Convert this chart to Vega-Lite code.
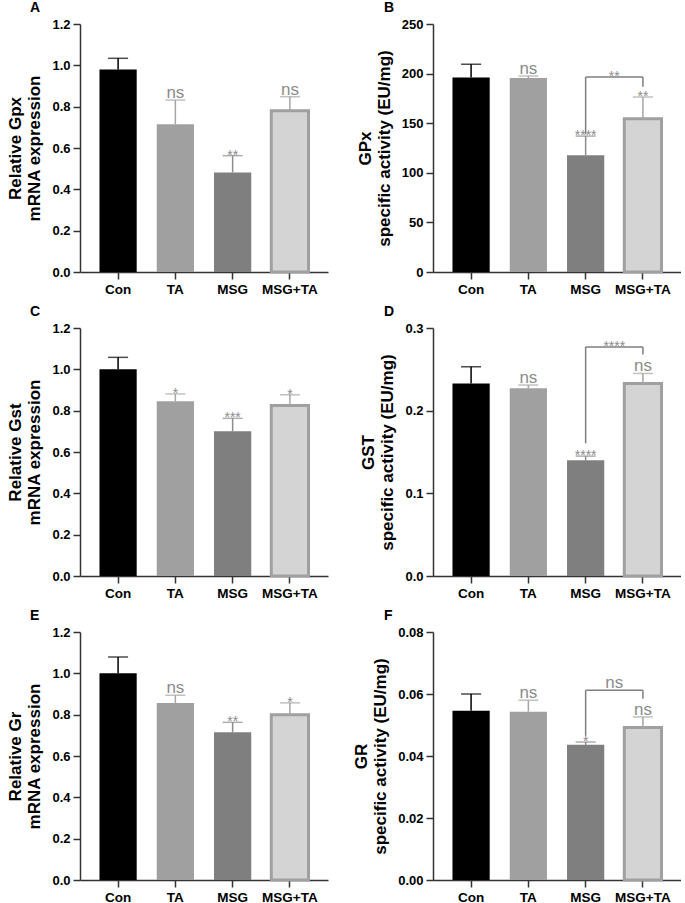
{
  "$schema": "https://vega.github.io/schema/vega-lite/v6.json",
  "padding": {"left": 6, "top": 1, "right": 0, "bottom": 0},
  "columns": 2,
  "spacing": {"row": 9, "column": 24},
  "datasets": {
    "bars": [
      {"panel": "A", "group": "Con", "mean": 0.98, "upper": 1.034, "sig": ""},
      {"panel": "A", "group": "TA", "mean": 0.715, "upper": 0.832, "sig": "ns"},
      {"panel": "A", "group": "MSG", "mean": 0.482, "upper": 0.563, "sig": "**"},
      {"panel": "A", "group": "MSG+TA", "mean": 0.78, "upper": 0.848, "sig": "ns"},
      {"panel": "B", "group": "Con", "mean": 196, "upper": 209.4, "sig": ""},
      {"panel": "B", "group": "TA", "mean": 195.6, "upper": 197.6, "sig": "ns"},
      {"panel": "B", "group": "MSG", "mean": 117.6, "upper": 137, "sig": "****"},
      {"panel": "B", "group": "MSG+TA", "mean": 154.5, "upper": 176.4, "sig": "**"},
      {"panel": "C", "group": "Con", "mean": 1.0, "upper": 1.058, "sig": ""},
      {"panel": "C", "group": "TA", "mean": 0.845, "upper": 0.881, "sig": "*"},
      {"panel": "C", "group": "MSG", "mean": 0.70, "upper": 0.763, "sig": "***"},
      {"panel": "C", "group": "MSG+TA", "mean": 0.825, "upper": 0.877, "sig": "*"},
      {"panel": "D", "group": "Con", "mean": 0.233, "upper": 0.253, "sig": ""},
      {"panel": "D", "group": "TA", "mean": 0.227, "upper": 0.231, "sig": "ns"},
      {"panel": "D", "group": "MSG", "mean": 0.140, "upper": 0.145, "sig": "****"},
      {"panel": "D", "group": "MSG+TA", "mean": 0.233, "upper": 0.245, "sig": "ns"},
      {"panel": "E", "group": "Con", "mean": 1.0, "upper": 1.079, "sig": ""},
      {"panel": "E", "group": "TA", "mean": 0.857, "upper": 0.894, "sig": "ns"},
      {"panel": "E", "group": "MSG", "mean": 0.715, "upper": 0.763, "sig": "**"},
      {"panel": "E", "group": "MSG+TA", "mean": 0.80, "upper": 0.857, "sig": "*"},
      {"panel": "F", "group": "Con", "mean": 0.0546, "upper": 0.0600, "sig": ""},
      {"panel": "F", "group": "TA", "mean": 0.0543, "upper": 0.0580, "sig": "ns"},
      {"panel": "F", "group": "MSG", "mean": 0.0436, "upper": 0.0445, "sig": "*"},
      {"panel": "F", "group": "MSG+TA", "mean": 0.0492, "upper": 0.0526, "sig": "ns"}
    ],
    "brackets": [
      {"panel": "B", "left": "MSG", "right": "MSG+TA", "y": 196.6, "yl": 138.8, "yr": 186.8, "label": "**"},
      {"panel": "D", "left": "MSG", "right": "MSG+TA", "y": 0.277, "yl": 0.1605, "yr": 0.268, "label": "****"},
      {"panel": "F", "left": "MSG", "right": "MSG+TA", "y": 0.0612, "yl": 0.0465, "yr": 0.0585, "label": "ns"}
    ]
  },
  "concat": [
    {
      "width": 248, "height": 248,
      "title": {"text": "A", "anchor": "start", "frame": "group", "dx": -50, "offset": 3, "fontSize": 14, "font": "Liberation Sans", "fontWeight": "bold", "color": "#000"},
      "data": {"name": "bars"},
      "transform": [{"filter": "datum.panel === 'A'"}],
      "encoding": {"x": {"field": "group", "type": "nominal", "title": null, "sort": ["Con", "TA", "MSG", "MSG+TA"], "scale": {"domain": ["Con", "TA", "MSG", "MSG+TA"], "paddingInner": 0.35, "paddingOuter": 0.34}}},
      "layer": [
        {"mark": {"type": "bar", "stroke": "#a0a0a0"}, "encoding": {
          "y": {"field": "mean", "type": "quantitative", "scale": {"domain": [0, 1.2], "nice": false}, "axis": {"title": ["Relative Gpx", "mRNA expression"], "values": [0, 0.2, 0.4, 0.6, 0.8, 1.0, 1.2], "format": ".1f"}},
          "fill": {"field": "group", "type": "nominal", "scale": {"domain": ["Con", "TA", "MSG", "MSG+TA"], "range": ["#000000", "#a0a0a0", "#7f7f7f", "#d4d4d4"]}, "legend": null},
          "strokeWidth": {"condition": {"test": "datum.group === 'MSG+TA'", "value": 3}, "value": 0}}},
        {"mark": {"type": "rule", "strokeWidth": 1.5}, "encoding": {"y": {"field": "mean", "type": "quantitative"}, "y2": {"field": "upper"},
          "stroke": {"field": "group", "type": "nominal", "scale": {"domain": ["Con", "TA", "MSG", "MSG+TA"], "range": ["#000000", "#a6a6a6", "#8c8c8c", "#a6a6a6"]}, "legend": null}}},
        {"mark": {"type": "tick", "thickness": 1.5, "size": 20}, "encoding": {"y": {"field": "upper", "type": "quantitative"},
          "color": {"field": "group", "type": "nominal", "scale": {"domain": ["Con", "TA", "MSG", "MSG+TA"], "range": ["#000000", "#a6a6a6", "#8c8c8c", "#a6a6a6"]}, "legend": null}}},
        {"transform": [{"filter": "datum.sig === 'ns'"}], "mark": {"type": "text", "font": "Liberation Sans", "fontSize": 17, "color": "#8c8c8c", "baseline": "alphabetic", "dy": -2}, "encoding": {"y": {"field": "upper", "type": "quantitative"}, "text": {"field": "sig"}}},
        {"transform": [{"filter": "datum.sig !== 'ns' && datum.sig !== ''"}], "mark": {"type": "text", "font": "Liberation Sans", "fontSize": 14, "color": "#8c8c8c", "baseline": "alphabetic", "dy": 4}, "encoding": {"y": {"field": "upper", "type": "quantitative"}, "text": {"field": "sig"}}}
      ]
    },
    {
      "width": 248, "height": 248,
      "title": {"text": "B", "anchor": "start", "frame": "group", "dx": -49, "offset": 3, "fontSize": 14, "font": "Liberation Sans", "fontWeight": "bold", "color": "#000"},
      "data": {"name": "bars"},
      "transform": [{"filter": "datum.panel === 'B'"}],
      "encoding": {"x": {"field": "group", "type": "nominal", "title": null, "sort": ["Con", "TA", "MSG", "MSG+TA"], "scale": {"domain": ["Con", "TA", "MSG", "MSG+TA"], "paddingInner": 0.35, "paddingOuter": 0.34}}},
      "layer": [
        {"mark": {"type": "bar", "stroke": "#a0a0a0"}, "encoding": {
          "y": {"field": "mean", "type": "quantitative", "scale": {"domain": [0, 250], "nice": false}, "axis": {"title": ["GPx", "specific activity (EU/mg)"], "values": [0, 50, 100, 150, 200, 250]}},
          "fill": {"field": "group", "type": "nominal", "scale": {"domain": ["Con", "TA", "MSG", "MSG+TA"], "range": ["#000000", "#a0a0a0", "#7f7f7f", "#d4d4d4"]}, "legend": null},
          "strokeWidth": {"condition": {"test": "datum.group === 'MSG+TA'", "value": 3}, "value": 0}}},
        {"mark": {"type": "rule", "strokeWidth": 1.5}, "encoding": {"y": {"field": "mean", "type": "quantitative"}, "y2": {"field": "upper"},
          "stroke": {"field": "group", "type": "nominal", "scale": {"domain": ["Con", "TA", "MSG", "MSG+TA"], "range": ["#000000", "#a6a6a6", "#8c8c8c", "#a6a6a6"]}, "legend": null}}},
        {"mark": {"type": "tick", "thickness": 1.5, "size": 20}, "encoding": {"y": {"field": "upper", "type": "quantitative"},
          "color": {"field": "group", "type": "nominal", "scale": {"domain": ["Con", "TA", "MSG", "MSG+TA"], "range": ["#000000", "#a6a6a6", "#8c8c8c", "#a6a6a6"]}, "legend": null}}},
        {"transform": [{"filter": "datum.sig === 'ns'"}], "mark": {"type": "text", "font": "Liberation Sans", "fontSize": 17, "color": "#8c8c8c", "baseline": "alphabetic", "dy": -2}, "encoding": {"y": {"field": "upper", "type": "quantitative"}, "text": {"field": "sig"}}},
        {"transform": [{"filter": "datum.sig !== 'ns' && datum.sig !== ''"}], "mark": {"type": "text", "font": "Liberation Sans", "fontSize": 14, "color": "#8c8c8c", "baseline": "alphabetic", "dy": 4}, "encoding": {"y": {"field": "upper", "type": "quantitative"}, "text": {"field": "sig"}}},
        {"data": {"name": "brackets"}, "transform": [{"filter": "datum.panel === 'B'"}], "mark": {"type": "rule", "color": "#7f7f7f", "strokeWidth": 1.5}, "encoding": {"x": {"field": "left", "type": "nominal", "title": null}, "x2": {"field": "right"}, "y": {"field": "y", "type": "quantitative"}}},
        {"data": {"name": "brackets"}, "transform": [{"filter": "datum.panel === 'B'"}], "mark": {"type": "rule", "color": "#7f7f7f", "strokeWidth": 1.5}, "encoding": {"x": {"field": "left", "type": "nominal", "title": null}, "y": {"field": "yl", "type": "quantitative"}, "y2": {"field": "y"}}},
        {"data": {"name": "brackets"}, "transform": [{"filter": "datum.panel === 'B'"}], "mark": {"type": "rule", "color": "#7f7f7f", "strokeWidth": 1.5}, "encoding": {"x": {"field": "right", "type": "nominal", "title": null}, "y": {"field": "yr", "type": "quantitative"}, "y2": {"field": "y"}}},
        {"data": {"name": "brackets"}, "transform": [{"filter": "datum.panel === 'B'"}], "mark": {"type": "text", "font": "Liberation Sans", "fontSize": 14, "color": "#8c8c8c", "baseline": "alphabetic", "dy": 4}, "encoding": {"x": {"field": "left", "type": "nominal", "title": null, "bandPosition": 1.27}, "y": {"field": "y", "type": "quantitative"}, "text": {"field": "label"}}}
      ]
    },
    {
      "width": 248, "height": 248,
      "title": {"text": "C", "anchor": "start", "frame": "group", "dx": -50, "offset": 3, "fontSize": 14, "font": "Liberation Sans", "fontWeight": "bold", "color": "#000"},
      "data": {"name": "bars"},
      "transform": [{"filter": "datum.panel === 'C'"}],
      "encoding": {"x": {"field": "group", "type": "nominal", "title": null, "sort": ["Con", "TA", "MSG", "MSG+TA"], "scale": {"domain": ["Con", "TA", "MSG", "MSG+TA"], "paddingInner": 0.35, "paddingOuter": 0.34}}},
      "layer": [
        {"mark": {"type": "bar", "stroke": "#a0a0a0"}, "encoding": {
          "y": {"field": "mean", "type": "quantitative", "scale": {"domain": [0, 1.2], "nice": false}, "axis": {"title": ["Relative Gst", "mRNA expression"], "values": [0, 0.2, 0.4, 0.6, 0.8, 1.0, 1.2], "format": ".1f"}},
          "fill": {"field": "group", "type": "nominal", "scale": {"domain": ["Con", "TA", "MSG", "MSG+TA"], "range": ["#000000", "#a0a0a0", "#7f7f7f", "#d4d4d4"]}, "legend": null},
          "strokeWidth": {"condition": {"test": "datum.group === 'MSG+TA'", "value": 3}, "value": 0}}},
        {"mark": {"type": "rule", "strokeWidth": 1.5}, "encoding": {"y": {"field": "mean", "type": "quantitative"}, "y2": {"field": "upper"},
          "stroke": {"field": "group", "type": "nominal", "scale": {"domain": ["Con", "TA", "MSG", "MSG+TA"], "range": ["#000000", "#a6a6a6", "#8c8c8c", "#a6a6a6"]}, "legend": null}}},
        {"mark": {"type": "tick", "thickness": 1.5, "size": 20}, "encoding": {"y": {"field": "upper", "type": "quantitative"},
          "color": {"field": "group", "type": "nominal", "scale": {"domain": ["Con", "TA", "MSG", "MSG+TA"], "range": ["#000000", "#a6a6a6", "#8c8c8c", "#a6a6a6"]}, "legend": null}}},
        {"transform": [{"filter": "datum.sig === 'ns'"}], "mark": {"type": "text", "font": "Liberation Sans", "fontSize": 17, "color": "#8c8c8c", "baseline": "alphabetic", "dy": -2}, "encoding": {"y": {"field": "upper", "type": "quantitative"}, "text": {"field": "sig"}}},
        {"transform": [{"filter": "datum.sig !== 'ns' && datum.sig !== ''"}], "mark": {"type": "text", "font": "Liberation Sans", "fontSize": 14, "color": "#8c8c8c", "baseline": "alphabetic", "dy": 4}, "encoding": {"y": {"field": "upper", "type": "quantitative"}, "text": {"field": "sig"}}}
      ]
    },
    {
      "width": 248, "height": 248,
      "title": {"text": "D", "anchor": "start", "frame": "group", "dx": -49, "offset": 3, "fontSize": 14, "font": "Liberation Sans", "fontWeight": "bold", "color": "#000"},
      "data": {"name": "bars"},
      "transform": [{"filter": "datum.panel === 'D'"}],
      "encoding": {"x": {"field": "group", "type": "nominal", "title": null, "sort": ["Con", "TA", "MSG", "MSG+TA"], "scale": {"domain": ["Con", "TA", "MSG", "MSG+TA"], "paddingInner": 0.35, "paddingOuter": 0.34}}},
      "layer": [
        {"mark": {"type": "bar", "stroke": "#a0a0a0"}, "encoding": {
          "y": {"field": "mean", "type": "quantitative", "scale": {"domain": [0, 0.3], "nice": false}, "axis": {"title": ["GST", "specific activity (EU/mg)"], "values": [0, 0.1, 0.2, 0.3], "format": ".1f"}},
          "fill": {"field": "group", "type": "nominal", "scale": {"domain": ["Con", "TA", "MSG", "MSG+TA"], "range": ["#000000", "#a0a0a0", "#7f7f7f", "#d4d4d4"]}, "legend": null},
          "strokeWidth": {"condition": {"test": "datum.group === 'MSG+TA'", "value": 3}, "value": 0}}},
        {"mark": {"type": "rule", "strokeWidth": 1.5}, "encoding": {"y": {"field": "mean", "type": "quantitative"}, "y2": {"field": "upper"},
          "stroke": {"field": "group", "type": "nominal", "scale": {"domain": ["Con", "TA", "MSG", "MSG+TA"], "range": ["#000000", "#a6a6a6", "#8c8c8c", "#a6a6a6"]}, "legend": null}}},
        {"mark": {"type": "tick", "thickness": 1.5, "size": 20}, "encoding": {"y": {"field": "upper", "type": "quantitative"},
          "color": {"field": "group", "type": "nominal", "scale": {"domain": ["Con", "TA", "MSG", "MSG+TA"], "range": ["#000000", "#a6a6a6", "#8c8c8c", "#a6a6a6"]}, "legend": null}}},
        {"transform": [{"filter": "datum.sig === 'ns'"}], "mark": {"type": "text", "font": "Liberation Sans", "fontSize": 17, "color": "#8c8c8c", "baseline": "alphabetic", "dy": -2}, "encoding": {"y": {"field": "upper", "type": "quantitative"}, "text": {"field": "sig"}}},
        {"transform": [{"filter": "datum.sig !== 'ns' && datum.sig !== ''"}], "mark": {"type": "text", "font": "Liberation Sans", "fontSize": 14, "color": "#8c8c8c", "baseline": "alphabetic", "dy": 4}, "encoding": {"y": {"field": "upper", "type": "quantitative"}, "text": {"field": "sig"}}},
        {"data": {"name": "brackets"}, "transform": [{"filter": "datum.panel === 'D'"}], "mark": {"type": "rule", "color": "#7f7f7f", "strokeWidth": 1.5}, "encoding": {"x": {"field": "left", "type": "nominal", "title": null}, "x2": {"field": "right"}, "y": {"field": "y", "type": "quantitative"}}},
        {"data": {"name": "brackets"}, "transform": [{"filter": "datum.panel === 'D'"}], "mark": {"type": "rule", "color": "#7f7f7f", "strokeWidth": 1.5}, "encoding": {"x": {"field": "left", "type": "nominal", "title": null}, "y": {"field": "yl", "type": "quantitative"}, "y2": {"field": "y"}}},
        {"data": {"name": "brackets"}, "transform": [{"filter": "datum.panel === 'D'"}], "mark": {"type": "rule", "color": "#7f7f7f", "strokeWidth": 1.5}, "encoding": {"x": {"field": "right", "type": "nominal", "title": null}, "y": {"field": "yr", "type": "quantitative"}, "y2": {"field": "y"}}},
        {"data": {"name": "brackets"}, "transform": [{"filter": "datum.panel === 'D'"}], "mark": {"type": "text", "font": "Liberation Sans", "fontSize": 14, "color": "#8c8c8c", "baseline": "alphabetic", "dy": 4}, "encoding": {"x": {"field": "left", "type": "nominal", "title": null, "bandPosition": 1.27}, "y": {"field": "y", "type": "quantitative"}, "text": {"field": "label"}}}
      ]
    },
    {
      "width": 248, "height": 248,
      "title": {"text": "E", "anchor": "start", "frame": "group", "dx": -50, "offset": 3, "fontSize": 14, "font": "Liberation Sans", "fontWeight": "bold", "color": "#000"},
      "data": {"name": "bars"},
      "transform": [{"filter": "datum.panel === 'E'"}],
      "encoding": {"x": {"field": "group", "type": "nominal", "title": null, "sort": ["Con", "TA", "MSG", "MSG+TA"], "scale": {"domain": ["Con", "TA", "MSG", "MSG+TA"], "paddingInner": 0.35, "paddingOuter": 0.34}}},
      "layer": [
        {"mark": {"type": "bar", "stroke": "#a0a0a0"}, "encoding": {
          "y": {"field": "mean", "type": "quantitative", "scale": {"domain": [0, 1.2], "nice": false}, "axis": {"title": ["Relative Gr", "mRNA expression"], "values": [0, 0.2, 0.4, 0.6, 0.8, 1.0, 1.2], "format": ".1f"}},
          "fill": {"field": "group", "type": "nominal", "scale": {"domain": ["Con", "TA", "MSG", "MSG+TA"], "range": ["#000000", "#a0a0a0", "#7f7f7f", "#d4d4d4"]}, "legend": null},
          "strokeWidth": {"condition": {"test": "datum.group === 'MSG+TA'", "value": 3}, "value": 0}}},
        {"mark": {"type": "rule", "strokeWidth": 1.5}, "encoding": {"y": {"field": "mean", "type": "quantitative"}, "y2": {"field": "upper"},
          "stroke": {"field": "group", "type": "nominal", "scale": {"domain": ["Con", "TA", "MSG", "MSG+TA"], "range": ["#000000", "#a6a6a6", "#8c8c8c", "#a6a6a6"]}, "legend": null}}},
        {"mark": {"type": "tick", "thickness": 1.5, "size": 20}, "encoding": {"y": {"field": "upper", "type": "quantitative"},
          "color": {"field": "group", "type": "nominal", "scale": {"domain": ["Con", "TA", "MSG", "MSG+TA"], "range": ["#000000", "#a6a6a6", "#8c8c8c", "#a6a6a6"]}, "legend": null}}},
        {"transform": [{"filter": "datum.sig === 'ns'"}], "mark": {"type": "text", "font": "Liberation Sans", "fontSize": 17, "color": "#8c8c8c", "baseline": "alphabetic", "dy": -2}, "encoding": {"y": {"field": "upper", "type": "quantitative"}, "text": {"field": "sig"}}},
        {"transform": [{"filter": "datum.sig !== 'ns' && datum.sig !== ''"}], "mark": {"type": "text", "font": "Liberation Sans", "fontSize": 14, "color": "#8c8c8c", "baseline": "alphabetic", "dy": 4}, "encoding": {"y": {"field": "upper", "type": "quantitative"}, "text": {"field": "sig"}}}
      ]
    },
    {
      "width": 248, "height": 248,
      "title": {"text": "F", "anchor": "start", "frame": "group", "dx": -49, "offset": 3, "fontSize": 14, "font": "Liberation Sans", "fontWeight": "bold", "color": "#000"},
      "data": {"name": "bars"},
      "transform": [{"filter": "datum.panel === 'F'"}],
      "encoding": {"x": {"field": "group", "type": "nominal", "title": null, "sort": ["Con", "TA", "MSG", "MSG+TA"], "scale": {"domain": ["Con", "TA", "MSG", "MSG+TA"], "paddingInner": 0.35, "paddingOuter": 0.34}}},
      "layer": [
        {"mark": {"type": "bar", "stroke": "#a0a0a0"}, "encoding": {
          "y": {"field": "mean", "type": "quantitative", "scale": {"domain": [0, 0.08], "nice": false}, "axis": {"title": ["GR", "specific activity (EU/mg)"], "values": [0, 0.02, 0.04, 0.06, 0.08], "format": ".2f"}},
          "fill": {"field": "group", "type": "nominal", "scale": {"domain": ["Con", "TA", "MSG", "MSG+TA"], "range": ["#000000", "#a0a0a0", "#7f7f7f", "#d4d4d4"]}, "legend": null},
          "strokeWidth": {"condition": {"test": "datum.group === 'MSG+TA'", "value": 3}, "value": 0}}},
        {"mark": {"type": "rule", "strokeWidth": 1.5}, "encoding": {"y": {"field": "mean", "type": "quantitative"}, "y2": {"field": "upper"},
          "stroke": {"field": "group", "type": "nominal", "scale": {"domain": ["Con", "TA", "MSG", "MSG+TA"], "range": ["#000000", "#a6a6a6", "#8c8c8c", "#a6a6a6"]}, "legend": null}}},
        {"mark": {"type": "tick", "thickness": 1.5, "size": 20}, "encoding": {"y": {"field": "upper", "type": "quantitative"},
          "color": {"field": "group", "type": "nominal", "scale": {"domain": ["Con", "TA", "MSG", "MSG+TA"], "range": ["#000000", "#a6a6a6", "#8c8c8c", "#a6a6a6"]}, "legend": null}}},
        {"transform": [{"filter": "datum.sig === 'ns'"}], "mark": {"type": "text", "font": "Liberation Sans", "fontSize": 17, "color": "#8c8c8c", "baseline": "alphabetic", "dy": -2}, "encoding": {"y": {"field": "upper", "type": "quantitative"}, "text": {"field": "sig"}}},
        {"transform": [{"filter": "datum.sig !== 'ns' && datum.sig !== ''"}], "mark": {"type": "text", "font": "Liberation Sans", "fontSize": 14, "color": "#8c8c8c", "baseline": "alphabetic", "dy": 4}, "encoding": {"y": {"field": "upper", "type": "quantitative"}, "text": {"field": "sig"}}},
        {"data": {"name": "brackets"}, "transform": [{"filter": "datum.panel === 'F'"}], "mark": {"type": "rule", "color": "#7f7f7f", "strokeWidth": 1.5}, "encoding": {"x": {"field": "left", "type": "nominal", "title": null}, "x2": {"field": "right"}, "y": {"field": "y", "type": "quantitative"}}},
        {"data": {"name": "brackets"}, "transform": [{"filter": "datum.panel === 'F'"}], "mark": {"type": "rule", "color": "#7f7f7f", "strokeWidth": 1.5}, "encoding": {"x": {"field": "left", "type": "nominal", "title": null}, "y": {"field": "yl", "type": "quantitative"}, "y2": {"field": "y"}}},
        {"data": {"name": "brackets"}, "transform": [{"filter": "datum.panel === 'F'"}], "mark": {"type": "rule", "color": "#7f7f7f", "strokeWidth": 1.5}, "encoding": {"x": {"field": "right", "type": "nominal", "title": null}, "y": {"field": "yr", "type": "quantitative"}, "y2": {"field": "y"}}},
        {"data": {"name": "brackets"}, "transform": [{"filter": "datum.panel === 'F'"}], "mark": {"type": "text", "font": "Liberation Sans", "fontSize": 17, "color": "#8c8c8c", "baseline": "alphabetic", "dy": -2}, "encoding": {"x": {"field": "left", "type": "nominal", "title": null, "bandPosition": 1.27}, "y": {"field": "y", "type": "quantitative"}, "text": {"field": "label"}}}
      ]
    }
  ],
  "config": {
    "view": {"stroke": null},
    "font": "Liberation Sans",
    "axis": {"grid": false, "domainColor": "#333333", "domainWidth": 1.5, "tickColor": "#333333", "tickWidth": 1.5, "tickSize": 7, "labelFont": "Liberation Sans", "labelFontWeight": "bold", "labelColor": "#000000", "labelFontSize": 13, "titleFont": "Liberation Sans", "titleFontWeight": "bold", "titleFontSize": 17, "titleColor": "#000000", "titleLineHeight": 19},
    "axisX": {"labelAngle": 0, "labelFontSize": 13.5, "labelPadding": 3},
    "axisY": {"titlePadding": 8, "labelPadding": 3}
  }
}
